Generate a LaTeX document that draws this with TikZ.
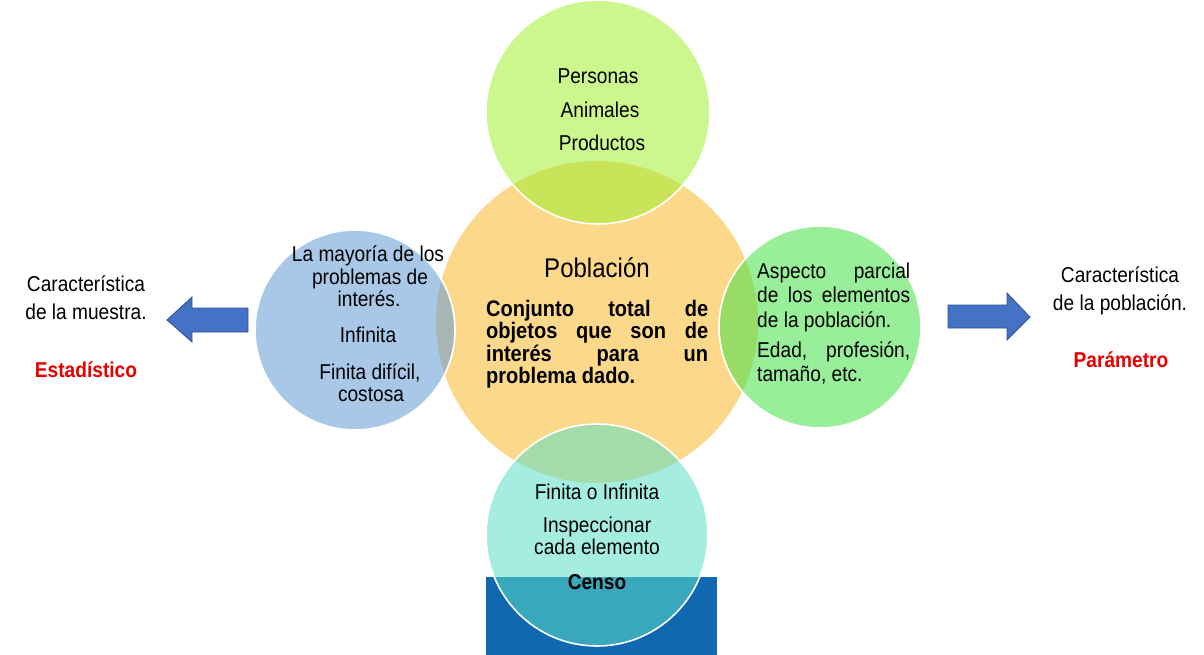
\documentclass[tikz,border=0pt]{standalone}
\usepackage{fontspec}
\setmainfont{Liberation Sans}[FakeStretch=0.89]
\definecolor{cyel}{RGB}{252,217,138}
\definecolor{ctop}{RGB}{162,238,49}
\definecolor{cleft}{RGB}{98,155,213}
\definecolor{cright}{RGB}{69,224,69}
\definecolor{cbot}{RGB}{91,222,198}
\definecolor{cblue}{RGB}{16,104,176}
\definecolor{carrow}{RGB}{68,114,196}
\definecolor{carrowb}{RGB}{47,82,143}
\definecolor{cred}{RGB}{232,0,0}
\begin{document}
\begin{tikzpicture}[x=1pt,y=-1pt,
  bub/.style={circle, draw=white, line width=1.6pt, fill opacity=0.55, inner sep=0pt},
  txt/.style={inner sep=0pt, anchor=base, font=\fontsize{21.5}{25}\selectfont},
  txtl/.style={txt, anchor=base west, text height=15pt, text depth=4pt},
  bodyb/.style={inner sep=0pt, anchor=base west, text height=15pt, text depth=4pt, font=\fontsize{22.5}{25}\selectfont\bfseries},
  redt/.style={txt, text=cred, font=\fontsize{21.5}{25}\selectfont\bfseries},
  blockarrow/.style={fill=carrow, draw=carrowb, line width=0.8pt}]
\useasboundingbox (0,0) rectangle (1204,655);
% blue base
\fill[cblue] (486,577) rectangle (717,655);
% circles
\node[circle, fill=cyel, minimum size=322pt, inner sep=0pt] (pob) at (597,322) {};
\node[bub, fill=ctop, minimum size=224pt] (top) at (598,112) {};
\node[bub, fill=cleft, minimum size=200pt] (left) at (355,330) {};
\node[bub, fill=cright, minimum size=202pt] (right) at (820,327) {};
\node[bub, fill=cbot, minimum size=222pt] (bot) at (597,535) {};
% top texts
\node[txt] (t1) at (598,84) {Personas};
\node[txt] (t2) at (600,118) {Animales};
\node[txt] (t3) at (602,151) {Productos};
% centre
\node[txt, font=\fontsize{27}{30}\selectfont] (c0) at (597,277) {Población};
\node[bodyb] (c1) at (486,316) {\makebox[222pt][s]{Conjunto total de}};
\node[bodyb] (c2) at (486,338.5) {\makebox[222pt][s]{objetos que son de}};
\node[bodyb] (c3) at (486,361) {\makebox[222pt][s]{interés para un}};
\node[bodyb] (c4) at (486,383.5) {problema dado.};
% left circle
\node[txt] (l1) at (368,261) {La mayoría de los};
\node[txt] (l2) at (370,284) {problemas de};
\node[txt] (l3) at (369,306) {interés.};
\node[txt] (l4) at (368,342) {Infinita};
\node[txt] (l5) at (370,379) {Finita difícil,};
\node[txt] (l6) at (371,401) {costosa};
% right circle
\node[txtl] (r1) at (757,278) {\makebox[153pt][s]{Aspecto parcial}};
\node[txtl] (r2) at (757,302) {\makebox[153pt][s]{de los elementos}};
\node[txtl] (r3) at (757,327) {de la población.};
\node[txtl] (r4) at (757,357) {\makebox[153pt][s]{Edad, profesión,}};
\node[txtl] (r5) at (757,381) {tamaño, etc.};
% bottom circle
\node[txt] (b1) at (597,499) {Finita o Infinita};
\node[txt] (b2) at (597,532) {Inspeccionar};
\node[txt] (b3) at (597,554) {cada elemento};
\node[txt, font=\fontsize{21.5}{25}\selectfont\bfseries] (b4) at (597,589) {Censo};
% outer left
\node[txt] (ol1) at (86,291) {Característica};
\node[txt] (ol2) at (86,319) {de la muestra.};
\node[redt] (ol3) at (86,377) {Estadístico};
% outer right
\node[txt] (or1) at (1120,282) {Característica};
\node[txt] (or2) at (1120,310) {de la población.};
\node[redt] (or3) at (1121,367) {Parámetro};
% block arrows
\draw[blockarrow] (248,308) -- (192,308) -- (192,297) -- (167,320) -- (192,342) -- (192,332) -- (248,332) -- cycle;
\draw[blockarrow] (948,305) -- (1007,305) -- (1007,293) -- (1030,317) -- (1007,340) -- (1007,328) -- (948,328) -- cycle;
\end{tikzpicture}
\end{document}
